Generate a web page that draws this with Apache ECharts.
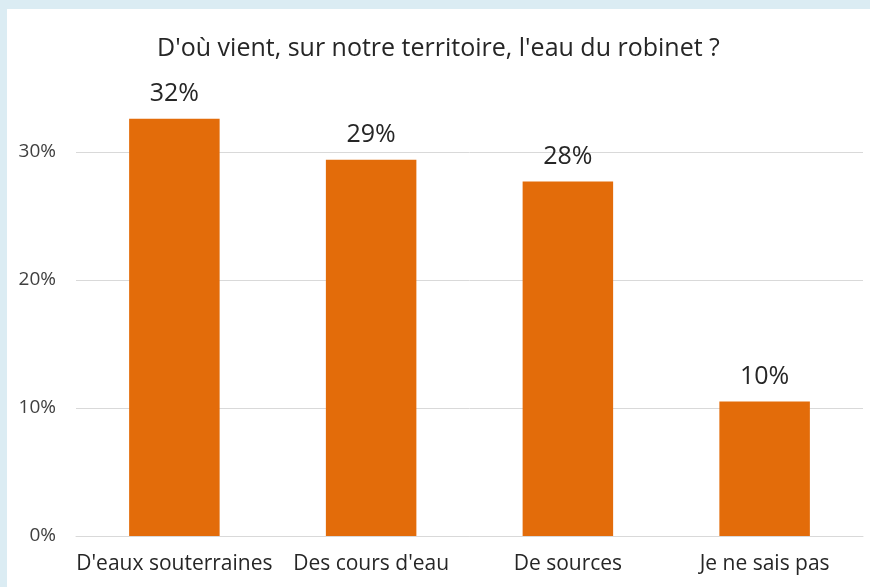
<!DOCTYPE html>
<html>
<head>
<meta charset="utf-8">
<script src="https://cdn.jsdelivr.net/npm/echarts@6/dist/echarts.min.js"></script>
<style>
  html, body { margin: 0; padding: 0; background: #dbecf3; }
  #chart { position: absolute; left: 7px; top: 9px; width: 863px; height: 578px; background: #fff; }
</style>
</head>
<body>
<div id="chart"></div>
<script>
const categories = ["D'eaux souterraines", "Des cours d'eau", 'De sources', 'Je ne sais pas']
const values = [32.6, 29.4, 27.7, 10.5]
const labels = ['32%', '29%', '28%', '10%']

const chart = echarts.init(document.getElementById('chart'))
const font = "'Open Sans', 'Noto Sans', sans-serif"

// axis stops at 30% (top gridline); taller bars overflow the grid, as in the original
chart.setOption({
  animation: false,
  title: {
    text: "D'où vient, sur notre territoire, l'eau du robinet ?",
    left: 'center',
    top: 22,
    textStyle: { fontFamily: font, fontSize: 25, fontWeight: 'normal', color: '#262626' },
  },
  grid: { left: 69, right: 7, top: 143, bottom: 51 },
  xAxis: {
    type: 'category',
    data: categories,
    axisLine: { lineStyle: { color: '#d9d9d9' } },
    axisTick: { show: false },
    axisLabel: { fontFamily: font, fontSize: 21, color: '#262626', margin: 18, interval: 0 },
  },
  yAxis: {
    type: 'value',
    min: 0,
    max: 30,
    interval: 10,
    axisLabel: {
      fontFamily: font,
      fontSize: 19,
      color: '#404040',
      margin: 20,
      formatter: '{value}%',
    },
    splitLine: { lineStyle: { color: '#d9d9d9' } },
    axisLine: { show: false },
    axisTick: { show: false },
  },
  series: [
    {
      type: 'bar',
      data: values,
      clip: false,
      barWidth: '46%',
      itemStyle: { color: '#e36c0a' },
      label: {
        show: true,
        position: 'top',
        distance: 12,
        fontFamily: font,
        fontSize: 25,
        color: '#262626',
        formatter: p => labels[p.dataIndex],
      },
    },
  ],
})
</script>
</body>
</html>
